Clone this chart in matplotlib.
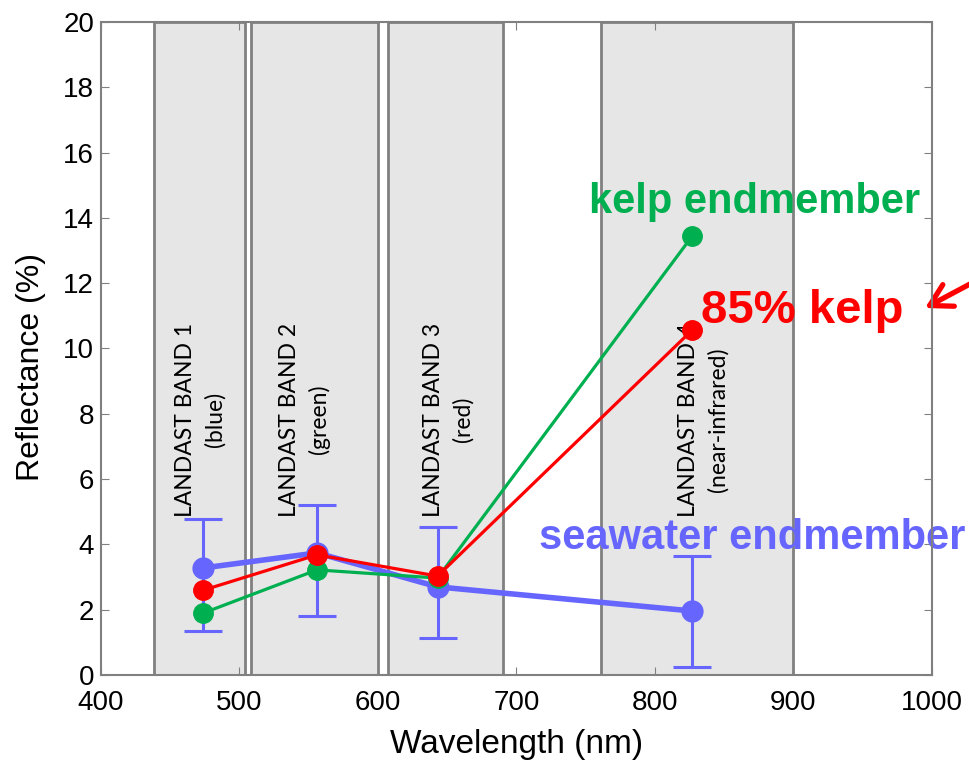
import matplotlib.pyplot as plt
import numpy as np

plt.rcParams['font.family'] = ['Liberation Sans', 'DejaVu Sans']

# Landsat band limits (nm) and labels
band_lo = [438, 508, 607, 761]
band_hi = [504, 600, 690, 900]
band_names = ['LANDAST BAND 1\n(blue)', 'LANDAST BAND 2\n(green)',
              'LANDAST BAND 3\n(red)', 'LANDAST BAND 4\n(near-infrared)']
band_label_x = [472, 547, 651, 835]

# spectra sampled at the band centres
wavelength = [474, 556, 643, 827]
seawater = [3.28, 3.74, 2.70, 1.96]
seawater_hi = [4.78, 5.20, 4.53, 3.64]
seawater_lo = [1.35, 1.80, 1.13, 0.25]
kelp = [1.90, 3.22, 2.97, 13.45]
kelp85 = [2.60, 3.68, 3.03, 10.57]

blue = '#6666ff'
green = '#00b050'
red = '#ff0000'

fig = plt.figure(figsize=(9.69, 7.61), dpi=100)
ax = fig.add_axes([0.1042, 0.1130, 0.8576, 0.8581])

# grey band boxes
for lo, hi in zip(band_lo, band_hi):
    ax.axvspan(lo, hi, facecolor='#e6e6e6', edgecolor='#808080', lw=2, zorder=1)
for x, name in zip(band_label_x, band_names):
    ax.text(x, 4.85, name, rotation=90, ha='center', va='bottom',
            multialignment='center', fontsize=16.5, linespacing=1.45,
            family=['Lato', 'DejaVu Sans'], zorder=2)

# seawater endmember with error bars
s = np.array(seawater)
yerr = [s - np.array(seawater_lo), np.array(seawater_hi) - s]
ax.errorbar(wavelength, seawater, yerr=yerr, color=blue, lw=4, marker='o',
            markersize=15, elinewidth=2.2, capsize=14, capthick=2.2, zorder=3)
ax.plot(wavelength, kelp, color=green, lw=2.3, marker='o', markersize=14, zorder=4)
ax.plot(wavelength, kelp85, color=red, lw=2.3, marker='o', markersize=14, zorder=5)

ax.text(872, 14.5, 'kelp endmember', color=green, fontsize=30,
        fontweight='bold', ha='center', va='center', zorder=6)
ax.text(906, 11.15, '85% kelp', color=red, fontsize=34,
        fontweight='bold', ha='center', va='center', zorder=6)
ax.text(870, 4.2, 'seawater endmember', color=blue, fontsize=30,
        fontweight='bold', ha='center', va='center', zorder=6)

ax.annotate('', xy=(925 / 969, 1 - 308 / 761), xycoords='figure fraction',
            xytext=(985 / 969, 1 - 276 / 761), textcoords='figure fraction',
            arrowprops=dict(arrowstyle='->,head_length=0.7,head_width=0.4',
                            color=red, lw=3.8, mutation_scale=22, shrinkA=0,
                            shrinkB=0))

ax.set_xlim(400, 1000)
ax.set_ylim(0, 20)
ax.set_xticks(np.arange(400, 1001, 100))
ax.set_yticks(np.arange(0, 21, 2))
ax.tick_params(direction='in', top=True, right=True, length=6,
               color='#808080', labelsize=20)
ax.tick_params(axis='x', pad=11)
ax.tick_params(axis='y', pad=5)
for sp in ax.spines.values():
    sp.set_color('#808080')
    sp.set_linewidth(1.5)
    sp.set_zorder(7)

ax.set_xlabel('Wavelength (nm)', fontsize=24, labelpad=9)
ax.set_ylabel('Reflectance (%)', fontsize=23)
ax.yaxis.set_label_coords(-0.066, 0.472)

fig.savefig('out.png', dpi=100)
